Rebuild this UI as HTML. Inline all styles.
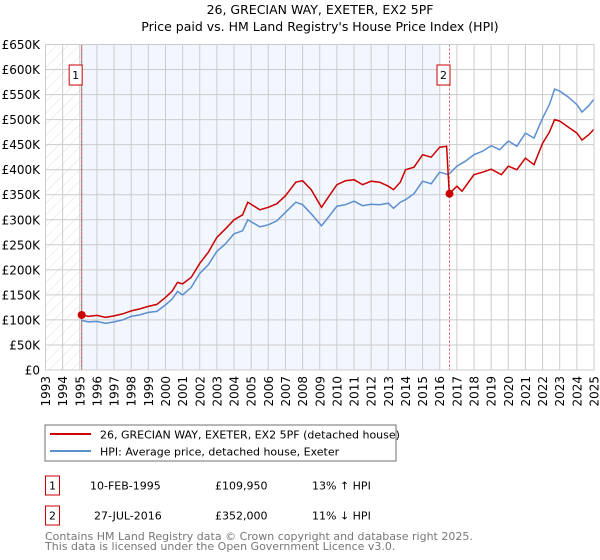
<!DOCTYPE html>
<html><head><meta charset="utf-8"><style>
body{margin:0;background:#fff;}
svg{display:block;font-family:"DejaVu Sans","Liberation Sans",sans-serif;}
</style></head><body>
<svg id="chart" width="600" height="560" xmlns="http://www.w3.org/2000/svg">
<defs><pattern id="hatch" width="8" height="8" patternUnits="userSpaceOnUse" patternTransform="rotate(45)"><line x1="0" y1="0" x2="0" y2="8" stroke="#d8d8d8" stroke-width="0.8"/></pattern></defs>
<text x="320" y="14" font-size="12.5" text-anchor="middle">26, GRECIAN WAY, EXETER, EX2 5PF</text>
<text x="320" y="31" font-size="12.5" text-anchor="middle">Price paid vs. HM Land Registry's House Price Index (HPI)</text>
<g id="plot"></g>
<rect x="45" y="425" width="351" height="36" fill="#fff" stroke="#888" stroke-width="1.2"/>
<line x1="50" y1="434" x2="91" y2="434" stroke="#cc0000" stroke-width="2"/>
<text x="100" y="438.5" font-size="11">26, GRECIAN WAY, EXETER, EX2 5PF (detached house)</text>
<line x1="50" y1="451" x2="91" y2="451" stroke="#5b8fd0" stroke-width="2"/>
<text x="100" y="455.5" font-size="11">HPI: Average price, detached house, Exeter</text>
<g font-size="11">
<rect x="45.5" y="476" width="14" height="19" fill="#fff" stroke="#cc0000"/>
<text x="52.5" y="489.5" text-anchor="middle">1</text>
<text x="90" y="489.5">10-FEB-1995</text>
<text x="215" y="489.5">£109,950</text>
<text x="312" y="489.5">13% ↑ HPI</text>
<rect x="45.5" y="506" width="14" height="19" fill="#fff" stroke="#cc0000"/>
<text x="52.5" y="519.5" text-anchor="middle">2</text>
<text x="94" y="519.5">27-JUL-2016</text>
<text x="215" y="519.5">£352,000</text>
<text x="312" y="519.5">11% ↓ HPI</text>
</g>
<text x="45" y="540" font-size="11" fill="#777">Contains HM Land Registry data © Crown copyright and database right 2025.</text>
<text x="45" y="550" font-size="11" fill="#777">This data is licensed under the Open Government Licence v3.0.</text>
</svg>
<script>
const yTicks=[0,50,100,150,200,250,300,350,400,450,500,550,600,650];
const yTickLabels=["£0","£50K","£100K","£150K","£200K","£250K","£300K","£350K","£400K","£450K","£500K","£550K","£600K","£650K"];
const years=[1993,1994,1995,1996,1997,1998,1999,2000,2001,2002,2003,2004,2005,2006,2007,2008,2009,2010,2011,2012,2013,2014,2015,2016,2017,2018,2019,2020,2021,2022,2023,2024,2025];
const hpiDates=[1995.1,1995.5,1996,1996.5,1997,1997.5,1998,1998.5,1999,1999.5,2000,2000.4,2000.7,2001,2001.5,2002,2002.5,2003,2003.5,2004,2004.5,2004.8,2005.5,2006,2006.5,2007,2007.6,2008,2008.5,2009.1,2009.5,2010,2010.5,2011,2011.5,2012,2012.5,2013,2013.3,2013.7,2014,2014.5,2015,2015.5,2016,2016.5,2017,2017.5,2018,2018.5,2019,2019.5,2020,2020.5,2021,2021.5,2022,2022.4,2022.7,2023,2023.5,2024,2024.3,2024.7,2025];
const hpiValues=[99,96,97,93,96,100,107,110,115,117,130,142,157,150,165,193,210,237,252,272,278,300,286,290,298,315,335,330,312,288,305,327,330,337,328,331,330,333,323,335,340,352,377,372,395,390,407,417,430,437,448,440,457,447,473,463,503,530,561,557,545,530,515,528,541];
const propDates=[1995.1,1995.5,1996,1996.5,1997,1997.5,1998,1998.5,1999,1999.5,2000,2000.4,2000.7,2001,2001.5,2002,2002.5,2003,2003.5,2004,2004.5,2004.8,2005.5,2006,2006.5,2007,2007.6,2008,2008.5,2009.1,2009.5,2010,2010.5,2011,2011.5,2012,2012.5,2013,2013.3,2013.7,2014,2014.5,2015,2015.5,2016,2016.4,2016.56,2017,2017.3,2018,2018.5,2019,2019.6,2020,2020.5,2021,2021.5,2022,2022.4,2022.7,2023,2023.5,2024,2024.3,2024.7,2025];
const propValues=[110,107,109,105,108,112,118,122,127,131,145,158,175,172,185,213,235,265,282,300,310,335,320,325,332,348,375,378,360,325,345,370,378,380,370,377,375,367,360,375,400,405,430,425,445,447,352,367,357,390,395,401,390,407,400,423,410,453,475,500,497,485,473,459,470,481];
const sales=[{d:1995.11,v:109.95,label:"1"},{d:2016.57,v:352,label:"2"}];
const X0=45.5,X1=594,Y0=370,Y1=44.5;
const xs=y=>X0+(y-1993)*(X1-X0)/32;
const ys=v=>Y0-v*(Y0-Y1)/650;
const NS="http://www.w3.org/2000/svg";
const g=document.getElementById('plot');
function mk(t,a,parent){const e=document.createElementNS(NS,t);for(const k in a)e.setAttribute(k,a[k]);(parent||g).appendChild(e);return e;}
let e;
e=mk('rect',{x:X0,y:Y1,width:xs(1995.11)-X0,height:Y0-Y1,fill:'url(#hatch)'});


e=mk('rect',{x:xs(1995.11),y:Y1,width:xs(2016.06)-xs(1995.11),height:Y0-Y1,fill:'#f2f6fe'});


yTicks.forEach((t,i)=>{
 e=mk('line',{x1:X0,x2:X1,y1:ys(t),y2:ys(t),stroke:'#ccc','stroke-width':1});
 
 
 e=mk('text',{x:40,y:ys(t)+4.5,'font-size':12,'text-anchor':'end'});
 e.textContent=yTickLabels[i];
 
 
});
years.forEach(yr=>{
 e=mk('line',{x1:xs(yr),x2:xs(yr),y1:Y1,y2:Y0,stroke:'#ccc','stroke-width':1});
 
 
 e=mk('text',{x:0,y:0,'font-size':12,'text-anchor':'end',transform:`translate(${xs(yr)+4.5},376) rotate(-90)`});
 e.textContent=yr;
 
 
});
e=mk('line',{x1:xs(1995.11),x2:xs(1995.11),y1:Y1,y2:Y0,stroke:'#888','stroke-width':1});


sales.forEach(s=>{
 e=mk('line',{x1:xs(s.d),x2:xs(s.d),y1:Y1,y2:Y0,stroke:'#e06060','stroke-width':1,'stroke-dasharray':'2,2'});
 
 
});
function path(d,v){return d.map((x,i)=>(i?'L':'M')+xs(x).toFixed(1)+','+ys(v[i]).toFixed(1)).join('');}
e=mk('path',{d:path(hpiDates,hpiValues),fill:'none',stroke:'#5b8fd0','stroke-width':1.5});


e=mk('path',{d:path(propDates,propValues),fill:'none',stroke:'#cc0000','stroke-width':1.5});


sales.forEach(s=>{
 e=mk('circle',{cx:xs(s.d),cy:ys(s.v),r:4,fill:'#cc0000'});
 
 
 e=mk('rect',{x:xs(s.d)-12.5,y:65,width:13,height:20,fill:'#fff',stroke:'#cc0000'});
 
 
 e=mk('text',{x:xs(s.d)-6,y:79,'font-size':11,'text-anchor':'middle'});
 e.textContent=s.label;
 
 
});
e=mk('rect',{x:X0,y:Y1,width:X1-X0,height:Y0-Y1,fill:'none',stroke:'#ccc','stroke-width':1});


</script>
</body></html>
